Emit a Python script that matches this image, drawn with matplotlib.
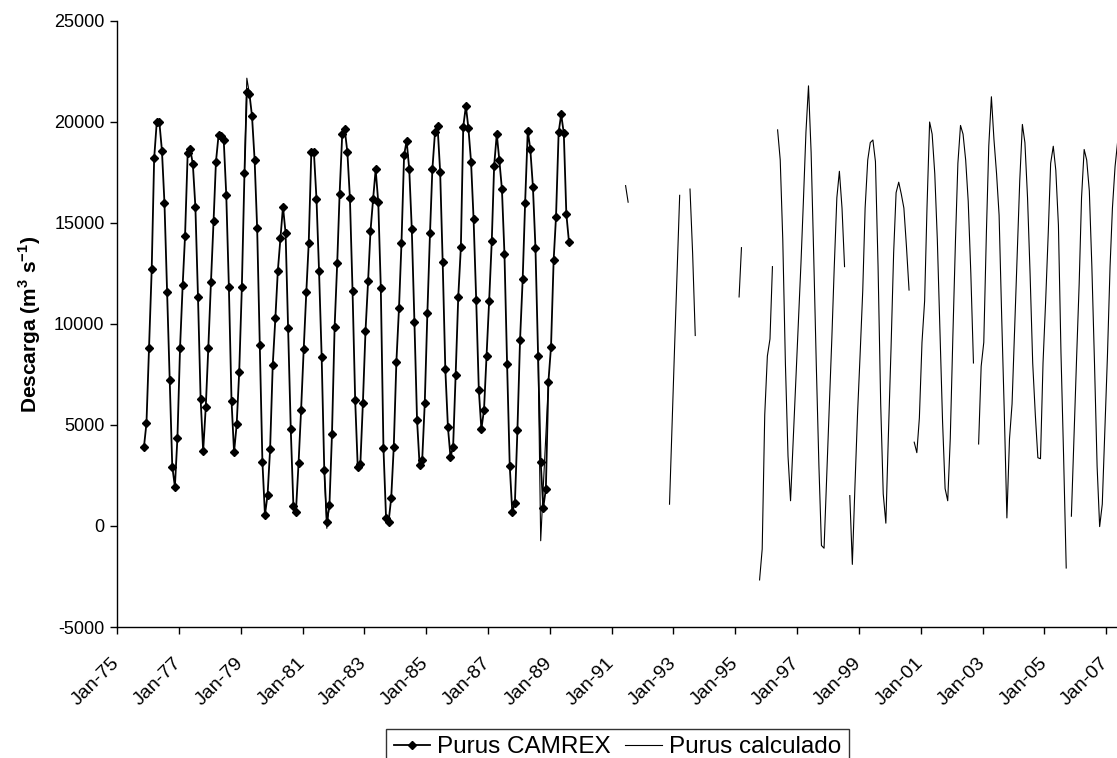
import numpy as np
import pandas as pd
import matplotlib
matplotlib.use("Agg")
import matplotlib.pyplot as plt
from matplotlib.lines import Line2D

plt.rcParams['font.family'] = ['Liberation Sans', 'DejaVu Sans']
plt.rcParams['mathtext.fontset'] = 'custom'
plt.rcParams['mathtext.rm'] = 'Liberation Sans'
plt.rcParams['mathtext.bf'] = 'Liberation Sans:bold'

# ---------------- data ----------------
camrex_start = "1975-11"
camrex_values = [
    3900, 5080, 8830, 12700, 18200, 20010, 20010, 18580, 15970, 11600, 7230, 2940,
    1950, 4370, 8830, 11930, 14370, 18450, 18660, 17920, 15810, 11320, 6290, 3710,
    5910, 8830, 12060, 15100, 18030, 19350, 19320, 19110, 16380, 11810, 6200, 3650,
    5030, 7640, 11810, 17460, 21500, 21380, 20300, 18120, 14730, 8960, 3180, 545,
    1535, 3810, 7970, 10280, 12620, 14240, 15810, 14490, 9820, 4800, 1005, 710,
    3100, 5740, 8760, 11600, 13990, 18530, 18530, 16190, 12640, 8380, 2770, 215,
    1040, 4550, 9840, 13030, 16430, 19390, 19630, 18500, 16220, 11630, 6240, 2940,
    3050, 6070, 9650, 12150, 14600, 16190, 17650, 16020, 11760, 3880, 380, 215,
    1400, 3925, 8130, 10810, 13990, 18360, 19070, 17650, 14690, 10110, 5250, 3020,
    3270, 6070, 10530, 14490, 17650, 19490, 19820, 17540, 13050, 7770, 4880, 3430,
    3900, 7470, 11350, 13830, 19770, 20790, 19690, 18030, 15200, 11190, 6730, 4800,
    5740, 8430, 11150, 14120, 17840, 19400, 18120, 16670, 13450, 8000, 2990, 710,
    1120, 4750, 9210, 12210, 16000, 19570, 18660, 16800, 13780, 8430, 3180, 905,
    1830, 7140, 8880, 13170, 15310, 19490, 20380, 19440, 15440, 14070,
]

# "Purus calculado": monthly pieces separated by gaps
calc_01_start, calc_01 = "1979-02", [17460, 22170, 21380]
calc_02_start, calc_02 = "1981-09", [2770, -115, 1040]
calc_a_start, calc_a = "1988-08", [8430, -730, 1900, 4500, 7140]
calc_b_start, calc_b = "1991-06", [16850, 16030]
calc_c_start, calc_c = "1992-11", [1080, 5000, 9000, 12800, 16370]
calc_d_start, calc_d = "1993-07", [16680, 13500, 9430]
calc_e_start, calc_e = "1995-02", [11340, 13780]
calc_f_start, calc_f = "1995-10", [-2670, -1140, 5500, 8410, 9260, 12840]
calc_g_start, calc_g = "1996-05", [
    19610, 18120, 14200, 8070, 3460, 1250, 4200, 7000, 10000, 13000, 16000, 19500,
    21790, 18500, 13500, 8000, 3000, -965, -1100, 2370, 5840, 9310, 12780, 16250,
    17560, 15740, 12840]
calc_h_start, calc_h = "1998-09", [
    1505, -1900, 2000, 5500, 8500, 11650, 15740, 18120, 18980, 19110, 18040, 12840,
    6040, 1590, 140, 4500, 8760, 13520, 16500, 17020, 16440, 15740, 13860, 11680]
calc_i_start, calc_i = "2000-10", [
    4150, 3630, 5350, 9090, 11140, 15740, 20000, 19400, 17440, 14200, 9770, 5170,
    1850, 1250, 4320, 9430, 14200, 17950, 19830, 19400, 18120, 16080, 12500, 8070]
calc_j_start, calc_j = "2002-11", [
    4060, 7900, 9090, 14540, 18810, 21250, 19150, 17440, 15390, 10280, 5510, 400,
    4320, 6040, 9770, 13520, 17100, 19880, 18980, 16250, 12500, 8070, 5500, 3380,
    3330, 8070, 11140, 14540, 17950, 18800, 17610, 14880, 8580, 3460, -2080]
calc_k_start, calc_k = "2005-11", [
    485, 4320, 8240, 11990, 16250, 18640, 18120, 16590, 12840, 8070, 2950, -30,
    1080, 4660, 8410, 12840, 15740, 17790, 19000]

tick_years = list(range(1975, 2008, 2))
y_ticks = [-5000, 0, 5000, 10000, 15000, 20000, 25000]
label_camrex = "Purus CAMREX"
label_calc = "Purus calculado"
y_label = r"Descarga (m$^{\mathbf{3}}$ s$^{\mathbf{-1}}$)"


def monthly(start, n):
    return pd.date_range(start, periods=n, freq="MS") + pd.Timedelta(days=14)


# camrex series
camrex = pd.Series(camrex_values, index=monthly(camrex_start, len(camrex_values)))

# calculated series with gaps (NaN)
pieces = [(calc_01_start, calc_01), (calc_02_start, calc_02),
          (calc_a_start, calc_a), (calc_b_start, calc_b), (calc_c_start, calc_c),
          (calc_d_start, calc_d), (calc_e_start, calc_e), (calc_f_start, calc_f),
          (calc_g_start, calc_g), (calc_h_start, calc_h), (calc_i_start, calc_i),
          (calc_j_start, calc_j), (calc_k_start, calc_k)]
full_idx = pd.date_range("1975-11", "2007-05", freq="MS") + pd.Timedelta(days=14)
calc = pd.Series(np.nan, index=full_idx)
for s, vals in pieces:
    calc.loc[monthly(s, len(vals))] = vals

# ---------------- figure ----------------
W, H = 1117, 758
fig = plt.figure(figsize=(W / 100, H / 100), dpi=100)
ax = fig.add_axes([117 / W, 1 - 627 / H, 1 - 117 / W, (627 - 21) / H])

ax.plot(calc.index, calc.values, color="black", lw=0.8, zorder=2)
ax.plot(camrex.index, camrex.values, color="black", lw=1.3, marker="D",
        markersize=4.2, markerfacecolor="black", markeredgecolor="black", zorder=3)

ax.set_ylim(-5000, 25000)
ax.set_yticks(y_ticks)
ax.set_yticklabels([str(v) for v in y_ticks])

ax.set_xlim(pd.Timestamp("1975-01-01"), pd.Timestamp("2007-05-08"))
tick_dates = [pd.Timestamp(f"{y}-01-01") for y in tick_years]
ax.set_xticks(tick_dates)
ax.set_xticklabels([d.strftime("%b-%y") for d in tick_dates], rotation=45,
                   ha="right", va="center", rotation_mode="anchor")

for sp in ("top", "right"):
    ax.spines[sp].set_visible(False)
for sp in ("left", "bottom"):
    ax.spines[sp].set_linewidth(1.0)
    ax.spines[sp].set_color("black")

ax.tick_params(axis="both", direction="out", length=5, width=1.0, colors="black")
ax.tick_params(axis="y", pad=4, labelsize=13)
ax.tick_params(axis="x", pad=19, labelsize=14)

ax.set_ylabel(y_label, fontsize=15, fontweight="bold", labelpad=8)

handles = [
    Line2D([], [], color="black", lw=1.3, marker="D", markersize=4.2),
    Line2D([], [], color="black", lw=0.8),
]
leg = fig.legend(handles, [label_camrex, label_calc], loc="upper center",
                 bbox_to_anchor=(617.5 / W, 1 - 729 / H), ncol=2, frameon=True,
                 fancybox=False, edgecolor="black", fontsize=17.5,
                 handlelength=1.5, handletextpad=0.3, columnspacing=0.6,
                 borderpad=0.3, borderaxespad=0)
leg.get_frame().set_linewidth(1.0)

fig.savefig("out.png", dpi=100)
